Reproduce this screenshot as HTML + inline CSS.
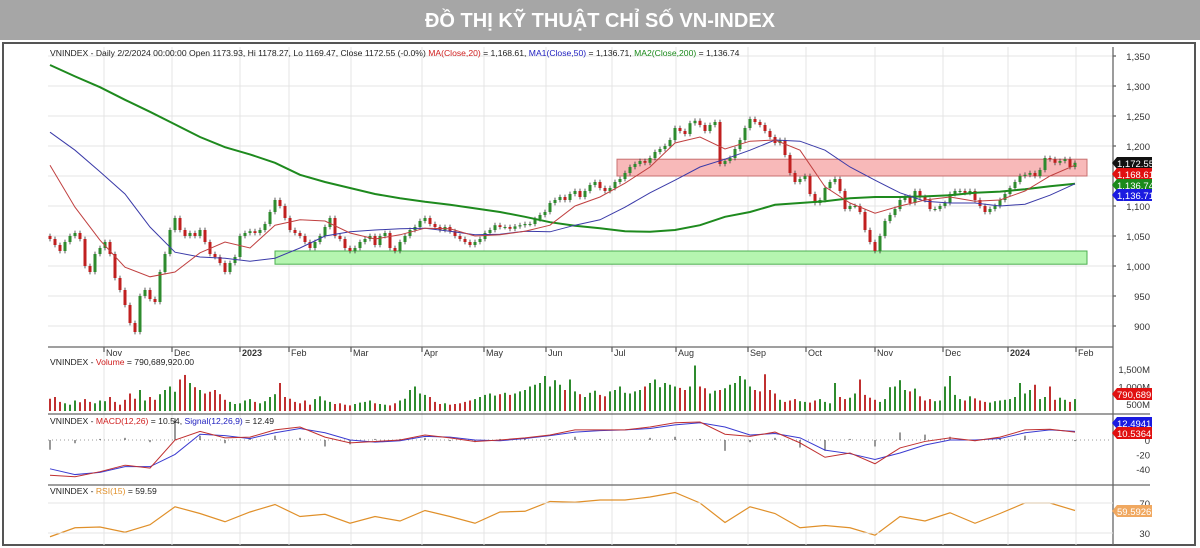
<!DOCTYPE html>
<html><head><meta charset="utf-8"><style>
body{margin:0;width:1200px;height:548px;background:#fff;overflow:hidden;font-family:"Liberation Sans",sans-serif}
#title{position:absolute;left:0;top:0;width:1200px;height:40px;background:#a6a6a6;color:#fff;font-weight:bold;font-size:20px;text-align:center;line-height:42px;font-family:"Liberation Sans","Noto Sans CJK SC",sans-serif}
svg{position:absolute;left:0;top:0}
text{font-family:"Liberation Sans",sans-serif}
</style></head><body>
<div id="title">ĐỒ THỊ KỸ THUẬT CHỈ SỐ VN-INDEX</div>
<svg id="chart" width="1200" height="548"></svg>
<script>
const closes=[1045,1035,1025,1040,1050,1055,1045,1000,990,1020,1030,1040,1020,980,960,935,905,890,950,960,945,940,990,1020,1060,1080,1060,1050,1055,1050,1060,1040,1020,1015,1005,990,1005,1015,1050,1055,1058,1055,1060,1070,1090,1110,1100,1080,1060,1055,1050,1040,1030,1040,1050,1065,1080,1050,1045,1030,1025,1030,1040,1045,1050,1035,1050,1055,1030,1025,1040,1050,1060,1065,1075,1080,1070,1065,1060,1065,1058,1050,1045,1040,1035,1040,1045,1055,1060,1068,1065,1065,1062,1066,1068,1070,1070,1078,1085,1090,1105,1110,1115,1110,1120,1125,1115,1125,1135,1140,1130,1125,1130,1140,1145,1155,1165,1170,1175,1172,1180,1190,1195,1200,1210,1230,1225,1220,1238,1242,1235,1225,1235,1240,1170,1175,1180,1195,1210,1230,1245,1240,1235,1225,1215,1205,1210,1185,1155,1140,1145,1150,1120,1105,1110,1130,1140,1145,1125,1095,1100,1100,1090,1060,1040,1025,1050,1075,1085,1095,1110,1115,1105,1125,1115,1110,1095,1095,1100,1105,1120,1125,1125,1122,1125,1110,1100,1090,1095,1100,1110,1120,1130,1140,1150,1152,1155,1150,1160,1180,1178,1172,1175,1178,1165,1172];
const volumes=[650,700,560,520,480,600,550,640,560,520,600,580,700,560,480,620,800,650,900,600,700,620,780,900,1000,850,1200,1330,1100,980,900,800,850,900,780,620,560,500,520,600,640,560,520,580,700,780,1100,700,650,560,520,600,480,640,720,600,560,500,520,480,460,500,540,560,600,520,500,480,460,520,600,650,900,1000,800,760,700,560,500,520,480,500,520,560,600,640,700,760,800,740,780,820,760,800,860,900,1000,1050,1100,1300,1000,1180,1050,900,1200,860,780,700,820,880,760,720,860,900,1000,820,800,860,900,1000,1100,1200,980,1100,1050,1000,960,900,1000,1600,1000,950,800,880,900,950,1050,1100,1300,1200,1000,900,860,1350,900,800,620,560,600,640,580,560,540,600,640,560,520,1100,700,640,680,800,1200,760,680,620,560,640,980,1000,1180,900,860,940,720,600,640,580,600,1000,1300,760,640,600,720,660,600,560,540,580,600,620,640,700,1100,800,900,1050,640,700,1000,620,680,620,560,640,580,520,560,1000,790];
const ma20=[1168,1098,1043,998,982,990,1022,1040,1030,1068,1077,1075,1055,1045,1052,1063,1062,1050,1052,1058,1068,1100,1115,1138,1165,1205,1215,1195,1208,1210,1193,1132,1105,1088,1100,1110,1115,1108,1110,1125,1150,1168];
const ma50=[1223,1193,1157,1120,1065,1023,1015,1013,1008,1013,1030,1050,1057,1060,1062,1063,1058,1052,1053,1058,1057,1068,1077,1098,1122,1143,1165,1178,1193,1210,1208,1193,1165,1143,1122,1108,1105,1105,1100,1103,1118,1137];
const ma200=[1335,1316,1298,1277,1257,1236,1215,1198,1186,1172,1152,1140,1130,1120,1113,1107,1102,1096,1090,1082,1073,1067,1063,1058,1057,1060,1068,1082,1090,1102,1105,1108,1113,1115,1115,1116,1118,1122,1124,1128,1133,1137];
const macd=[-49,-51,-44,-35,-39,0,12,3,4,14,18,4,-4,-2,0,7,3,-2,0,3,7,14,14,14,18,24,25,8,5,11,-4,-24,-18,-33,-11,-2,3,-1,4,14,15,11];
const signal=[-40,-48,-45,-37,-37,-20,8,6,2,10,16,10,0,-3,-1,5,4,0,-1,2,6,11,13,14,16,21,24,18,7,9,3,-14,-19,-27,-18,-7,0,0,2,10,14,12];
const rsi=[25,37,38,31,41,65,56,45,58,68,52,55,43,52,46,60,52,43,58,59,72,71,74,74,78,84,70,44,65,56,37,40,37,27,52,46,57,43,56,70,70,60];
const priceTicks=[1350,1300,1250,1200,1150,1100,1050,1000,950,900];
const volTicks=[1500,1000,500];
const macdTicks=[0,-20,-40];
const rsiTicks=[70,30];
const months=['Nov','Dec','2023','Feb','Mar','Apr','May','Jun','Jul','Aug','Sep','Oct','Nov','Dec','2024','Feb'];
const monthIdx=[10.8,24.4,38,47.8,60.2,74.4,86.8,99.2,112.4,125.2,139.6,151.2,165,178.6,191.6,205.2];
const resBand=[1150,1178];
const supBand=[1003,1025];

const NS='http://www.w3.org/2000/svg';
const svg=document.getElementById('chart');
const X0=50,X1=1075,N=closes.length;
const xi=i=>X0+i*(X1-X0)/(N-1);
const xs=i=>X0+i*(X1-X0)/(ma20.length-1);
const yP=v=>266-(v-1000)*0.6;
const yV=v=>421.5-v*0.035;
const yM=v=>440-v*0.72;
const yR=v=>503-(v-70)*0.75;
const PL=48,PR=1113;
function el(t,a,p){const e=document.createElementNS(NS,t);for(const k in a)e.setAttribute(k,a[k]);(p||svg).appendChild(e);return e;}
let f=el('rect',{x:3,y:43,width:1192,height:502,fill:'none',stroke:'#555','stroke-width':2});


priceTicks.forEach(v=>{const l=el('line',{x1:PL,x2:PR,y1:yP(v),y2:yP(v),stroke:'#e4e4e4'});


const t=el('text',{x:1150,y:yP(v)+4,'font-size':9.5,'text-anchor':'end',fill:'#333'});t.textContent=v.toLocaleString('en-US');


el('line',{x1:PR,x2:PR+3,y1:yP(v),y2:yP(v),stroke:'#333'});});
monthIdx.forEach((m,k)=>{const gx=xi(m);
const l=el('line',{x1:gx,x2:gx,y1:47,y2:545,stroke:'#e4e4e4'});


el('line',{x1:gx,x2:gx,y1:347,y2:352,stroke:'#333'});
const t=el('text',{x:gx+2,y:356,'font-size':9,fill:'#333','font-weight':months[k].length==4?'bold':'normal'});t.textContent=months[k];

});
[[PL,347,PR,347],[PL,414,1150,414],[PL,485,1150,485],[PR,47,PR,545]].forEach(a=>el('line',{x1:a[0],y1:a[1],x2:a[2],y2:a[3],stroke:'#666','stroke-width':1.3}));
let b1=el('rect',{x:617,y:yP(resBand[1]),width:470,height:yP(resBand[0])-yP(resBand[1]),fill:'#f8b9b9',stroke:'#c87070','stroke-width':1});


let b2=el('rect',{x:275,y:yP(supBand[1]),width:812,height:yP(supBand[0])-yP(supBand[1]),fill:'#b5f5b0',stroke:'#4caf50','stroke-width':1});


closes.forEach((c,i)=>{const o=i?closes[i-1]:c+5;const up=c>=o;const col=up?'#2e8b2e':'#c02020';const x=xi(i);
const hi=Math.max(o,c)+4,lo=Math.min(o,c)-4;
const g=el('g',{});


el('line',{x1:x,x2:x,y1:yP(hi),y2:yP(lo),stroke:'#333','stroke-width':0.8},g);
el('rect',{x:x-1.5,y:yP(Math.max(o,c)),width:3,height:Math.max(1,Math.abs(yP(o)-yP(c))),fill:col},g);
const vb=el('rect',{x:x-1,y:yV(volumes[i]),width:2,height:Math.max(0,411-yV(volumes[i])),fill:up?'#2e8b2e':'#c03030'});

});
function line(arr,yf,col,w,name){const p=el('polyline',{points:arr.map((v,i)=>xs(i)+','+yf(v)).join(' '),fill:'none',stroke:col,'stroke-width':w});

}
line(ma200,yP,'#1e8a1e',2,'ma200-line');
line(ma50,yP,'#3a3aa8',1,'ma50-line');
line(ma20,yP,'#c04040',1,'ma20-line');
el('line',{x1:PL,x2:PR,y1:yM(0),y2:yM(0),stroke:'#999','stroke-dasharray':'1,3'});
macd.forEach((m,i)=>{const h=(m-signal[i])*1.5;const r=el('rect',{x:xs(i)-0.5,y:Math.min(yM(0),yM(h)),width:1,height:Math.abs(yM(h)-yM(0)),fill:'#333'});

});
line(signal,yM,'#3a3ad0',1,'signal-line');
line(macd,yM,'#c03030',1,'macd-line');
line(rsi,yR,'#e0902a',1.2,'rsi-line');
volTicks.forEach(v=>{const t=el('text',{x:1150,y:yV(v)+4,'font-size':9.5,'text-anchor':'end',fill:'#333'});t.textContent=v.toLocaleString('en-US')+'M';

});
macdTicks.forEach(v=>{const t=el('text',{x:1150,y:yM(v)+4,'font-size':9.5,'text-anchor':'end',fill:'#333'});t.textContent=v;

});
rsiTicks.forEach(v=>{const t=el('text',{x:1150,y:yR(v)+4,'font-size':9.5,'text-anchor':'end',fill:'#333'});t.textContent=v;


el('line',{x1:PL,x2:PR,y1:yR(v),y2:yR(v),stroke:'#e4e4e4'});});
function badge(y,txt,bg,name){const g=el('g',{});


el('path',{d:`M${1112},${y} L${1117},${y-6} L${1152},${y-6} L${1152},${y+6} L${1117},${y+6} Z`,fill:bg},g);
const t=el('text',{x:1117,y:y+4,'font-size':9.5,fill:'#fff'},g);t.textContent=txt;}
badge(163,'1,172.55','#111','last-price-badge');
badge(174,'1,168.61','#e01010','ma20-badge');
badge(185,'1,136.74','#1a8a1a','ma200-badge');
badge(195,'1,136.71','#1a1ae0','ma50-badge');
badge(394,'790,689,','#e01010','volume-badge');
badge(423,'12.4941','#1a1ae0','signal-badge');
badge(433,'10.5364','#e01010','macd-badge');
badge(511,'59.5926','#f0a860','rsi-badge');
function legend(y,parts,name){const t=el('text',{x:50,y:y,'font-size':8.6,fill:'#222'});


parts.forEach(p=>{const s=el('tspan',{fill:p[1]},t);s.textContent=p[0];});}
legend(56,[['VNINDEX - Daily 2/2/2024 00:00:00 Open 1173.93, Hi 1178.27, Lo 1169.47, Close 1172.55 (-0.0%) ','#222'],['MA(Close,20)','#d02020'],[' = 1,168.61, ','#222'],['MA1(Close,50)','#2020c0'],[' = 1,136.71, ','#222'],['MA2(Close,200)','#1a8a1a'],[' = 1,136.74','#222']],'price-legend');
legend(365,[['VNINDEX - ','#222'],['Volume','#d02020'],[' = 790,689,920.00','#222']],'volume-legend');
legend(424,[['VNINDEX - ','#222'],['MACD(12,26)','#d02020'],[' = 10.54, ','#222'],['Signal(12,26,9)','#2020c0'],[' = 12.49','#222']],'macd-legend');
legend(494,[['VNINDEX - ','#222'],['RSI(15)','#e0902a'],[' = 59.59','#222']],'rsi-legend');
</script>
</body></html>
